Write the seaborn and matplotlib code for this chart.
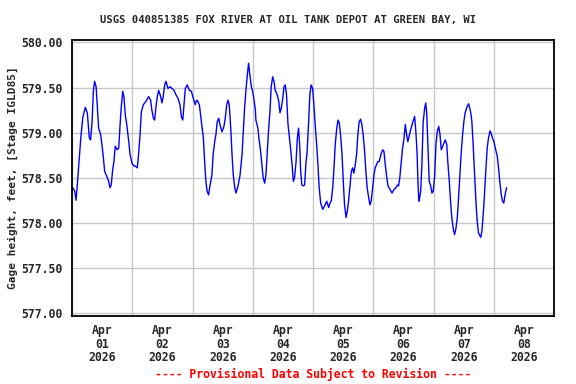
import numpy as np
import pandas as pd
import matplotlib
matplotlib.use("Agg")
import matplotlib.pyplot as plt
import matplotlib.dates as mdates
import seaborn as sns

# --- Data: hours since 2026-04-01 00:00 and gage height (ft) ---
hours = [
    0.3, 1.1, 1.6, 2.1, 2.7, 3.5, 4.3, 5.3, 6.1, 6.9, 7.4, 8.0, 8.5, 9.0, 9.6,
    10.1, 10.6, 11.4, 11.9, 12.5, 13.0, 13.8, 14.6, 15.1, 15.6, 16.2, 16.7, 17.2,
    18.0, 18.6, 19.1, 19.6, 20.2, 20.7, 21.2, 21.8, 22.6, 23.1, 23.9, 24.7,
    25.2, 26.0, 26.5, 27.1, 27.6, 28.4, 29.5, 30.5, 31.3, 31.8, 32.4, 32.9, 33.4,
    33.9, 34.5, 35.3, 35.8, 36.3, 36.9, 37.4, 38.2, 39.0, 39.8, 40.6, 41.4, 42.2,
    43.0, 43.5, 44.1, 44.6, 45.1, 45.9, 46.7, 47.5, 48.3, 49.1,
    49.4, 49.9, 50.7, 51.5, 52.3, 52.8, 53.3, 53.8, 54.4, 54.9, 55.7, 56.2, 56.8,
    57.3, 57.8, 58.4, 58.9, 59.7, 60.5, 61.0, 61.6, 62.1, 62.6, 63.2, 63.7, 64.2,
    64.8, 65.3, 66.1, 66.9, 67.7, 68.2, 68.7, 69.3, 69.8, 70.3, 70.8, 71.4, 71.9,
    72.4, 73.0,
    73.2, 74.0, 74.5, 75.1, 75.6, 76.1, 76.7, 77.2, 77.7, 78.3, 78.8, 79.3, 79.9,
    80.4, 80.9, 81.7, 82.3, 82.8, 83.3, 83.9, 84.4, 84.9, 85.4, 86.0, 86.5, 87.0,
    87.6, 88.1, 88.6, 89.2, 89.7, 90.2, 90.7, 91.0, 91.5, 92.1, 92.6, 93.1, 93.6,
    94.2, 94.7, 95.2, 95.8, 96.3, 96.8, 97.4, 97.9, 98.4, 99.0,
    99.8, 100.6, 101.4, 102.2, 102.7, 103.2, 103.8, 104.3, 104.8, 105.4, 105.9,
    106.4, 106.9, 107.5, 108.0, 108.5, 109.1, 109.6, 110.1, 110.6, 111.2, 111.7,
    112.2, 112.8, 113.3, 113.8, 114.3, 114.9, 115.4, 115.9, 116.5, 117.0, 117.5,
    118.1, 118.6, 119.1, 119.7, 120.2, 120.7, 121.3, 121.8, 122.3,
    123.1, 123.7, 124.2, 124.7, 125.2, 125.8, 126.6, 127.4, 128.2, 129.0, 129.5,
    130.0, 130.5, 131.1, 131.6, 132.1, 132.7, 133.2, 133.7, 134.2, 134.8, 135.6,
    136.4, 136.9, 137.4, 137.7, 138.0, 138.2, 138.8, 139.3, 139.8, 140.4, 140.8,
    141.2, 141.7, 142.2, 142.8, 143.3, 143.8, 144.4, 144.9, 145.4, 146.0, 146.5,
    147.0, 147.6,
    148.6, 149.2, 149.6, 150.2, 150.7, 151.2, 151.8, 152.3, 152.8, 153.4, 153.9,
    154.4, 154.9, 155.5, 156.0, 156.5, 157.3, 157.9, 158.7, 159.2, 159.7, 160.3,
    160.8, 161.3, 161.8, 162.7, 163.2, 163.7, 164.2, 164.8, 165.3, 165.8, 166.4,
    166.9, 167.4, 168.0, 168.5, 169.3, 169.8, 170.3, 170.9, 171.4, 171.9, 172.4,
    173.0,
]
stage = [
    578.39, 578.35, 578.25, 578.42, 578.65, 578.94, 579.17, 579.28, 579.22, 578.94,
    578.92, 579.12, 579.46, 579.57, 579.51, 579.28, 579.05, 578.98, 578.87, 578.72,
    578.57, 578.52, 578.46, 578.39, 578.42, 578.59, 578.68, 578.85, 578.81, 578.83,
    579.07, 579.28, 579.46, 579.39, 579.20, 579.09, 578.90, 578.76, 578.66, 578.63,
    578.63, 578.61, 578.76, 578.98, 579.23, 579.31, 579.35, 579.40, 579.36, 579.25,
    579.16, 579.14, 579.28, 579.39, 579.47, 579.40, 579.33, 579.40, 579.53, 579.57,
    579.49, 579.51, 579.49, 579.47, 579.42, 579.38, 579.31, 579.18, 579.14, 579.31,
    579.49, 579.53, 579.47, 579.46, 579.38, 579.31,
    579.35, 579.36, 579.31, 579.12, 578.94, 578.68, 578.46, 578.35, 578.31, 578.41,
    578.53, 578.76, 578.90, 578.98, 579.12, 579.16, 579.09, 579.01, 579.07, 579.16,
    579.31, 579.36, 579.31, 579.05, 578.76, 578.53, 578.39, 578.33, 578.41, 578.53,
    578.76, 579.01, 579.27, 579.49, 579.64, 579.77, 579.64, 579.51, 579.46, 579.38,
    579.25,
    579.14, 579.05, 578.92, 578.79, 578.65, 578.50, 578.44, 578.53, 578.76, 579.05,
    579.23, 579.51, 579.62, 579.57, 579.47, 579.42, 579.35, 579.22, 579.27, 579.38,
    579.51, 579.53, 579.42, 579.09, 578.96, 578.83, 578.65, 578.46, 578.50, 578.68,
    578.94, 579.05, 578.83, 578.59, 578.42, 578.41, 578.42, 578.65, 578.79, 579.12,
    579.42, 579.53, 579.49, 579.31, 579.09, 578.87, 578.65, 578.39, 578.22,
    578.15, 578.19, 578.24, 578.17, 578.22, 578.24, 578.39, 578.61, 578.87, 579.05,
    579.14, 579.11, 578.98, 578.76, 578.46, 578.20, 578.06, 578.13, 578.24, 578.39,
    578.57, 578.61, 578.55, 578.65, 578.76, 578.98, 579.12, 579.15, 579.09, 578.98,
    578.79, 578.57, 578.39, 578.28, 578.20, 578.24, 578.39, 578.53, 578.61, 578.65,
    578.68, 578.68,
    578.77, 578.81, 578.79, 578.65, 578.53, 578.41, 578.37, 578.33, 578.37, 578.39,
    578.42, 578.41, 578.50, 578.68, 578.83, 578.92, 579.09, 578.98, 578.90, 578.96,
    579.03, 579.11, 579.18, 579.01, 578.76, 578.46, 578.29, 578.24, 578.35, 578.65,
    579.12, 579.27, 579.33, 579.23, 578.83, 578.46, 578.41, 578.33, 578.35, 578.53,
    578.87, 579.01, 579.07, 578.98, 578.81, 578.85,
    578.92, 578.87, 578.68, 578.46, 578.24, 578.06, 577.93, 577.87, 577.93, 578.06,
    578.28, 578.53, 578.76, 578.98, 579.12, 579.22, 579.29, 579.32, 579.23, 579.12,
    578.87, 578.53, 578.24, 578.02, 577.89, 577.84, 577.91, 578.09, 578.31, 578.61,
    578.83, 578.94, 579.02, 578.99, 578.94, 578.90, 578.83, 578.74, 578.61, 578.46,
    578.31, 578.24, 578.22, 578.31, 578.39,
]
y_ticks = [577.0, 577.5, 578.0, 578.5, 579.0, 579.5, 580.0]

TITLE  = "USGS 040851385 FOX RIVER AT OIL TANK DEPOT AT GREEN BAY, WI"
YLABEL = "Gage height, feet, [Stage IGLD85]"
FOOTER = "---- Provisional Data Subject to Revision ----"

start = pd.Timestamp("2026-04-01")
df = pd.DataFrame({
    "time": start + pd.to_timedelta(hours, unit="h"),
    "stage": stage,
})

sns.set_style("white")
plt.rcParams["font.family"] = ["DejaVu Sans Mono"]
plt.rcParams["font.weight"] = "bold"

fig = plt.figure(figsize=(5.76, 3.84), dpi=100)
ax = fig.add_axes([0.125, 0.177, 0.8373, 0.7201])

sns.lineplot(data=df, x="time", y="stage", color="#0000ff", lw=1.0, ax=ax)

ax.set_xlim(start, start + pd.Timedelta(days=8))
ax.set_ylim(576.967, 580.033)
ax.set_yticks(y_ticks)
ax.yaxis.set_major_formatter(matplotlib.ticker.FormatStrFormatter("%.2f"))

# gridlines at midnight, date labels centred at noon
ax.xaxis.set_major_locator(mdates.DayLocator())
ax.xaxis.set_major_formatter(matplotlib.ticker.NullFormatter())
ax.xaxis.set_minor_locator(mdates.HourLocator(byhour=12))
ax.xaxis.set_minor_formatter(mdates.DateFormatter("%b\n%d\n%Y"))

ax.grid(True, which="major", color="#c8c8c8", lw=1.0)
ax.tick_params(axis="both", which="both", length=0)
ax.tick_params(axis="y", pad=7, labelsize=8.3)
ax.tick_params(axis="x", which="minor", pad=6, labelsize=8.3)
for lbl in ax.get_xticklabels(minor=True) + ax.get_yticklabels():
    lbl.set_fontweight("bold")
for lbl in ax.get_xticklabels(minor=True):
    lbl.set_linespacing(1.05)

for sp in ax.spines.values():
    sp.set_color("black")
    sp.set_linewidth(1.3)

ax.set_xlabel("")
ax.set_ylabel(YLABEL, fontsize=8.0, fontweight="bold", labelpad=2)

fig.text(0.5, 0.948, TITLE, ha="center", va="center",
         fontsize=7.6, fontweight="bold")
fig.text(0.543, 0.024, FOOTER, ha="center", va="center",
         fontsize=8.3, fontweight="bold", color="red")

fig.savefig("out.png", dpi=100)
